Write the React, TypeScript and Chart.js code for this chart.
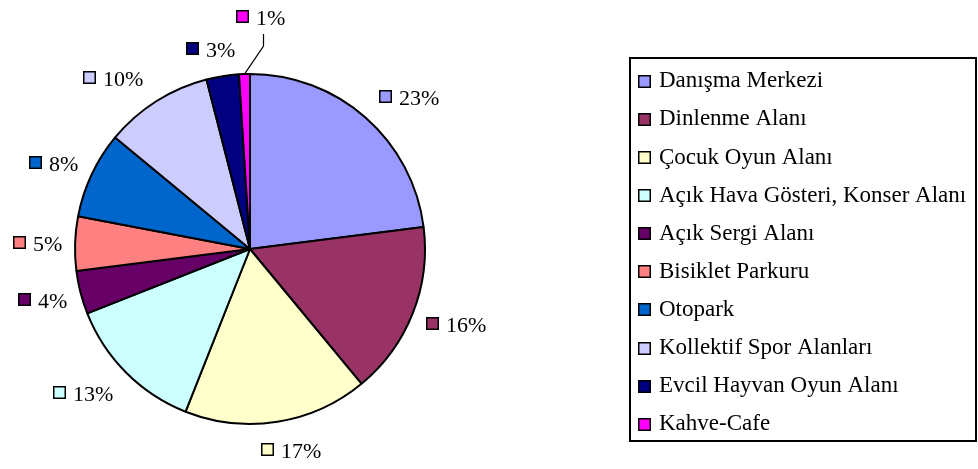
import { useEffect, useRef } from 'react';
import { Chart, registerables } from 'chart.js';

Chart.register(...registerables);

const categories = [
  'Danışma Merkezi',
  'Dinlenme Alanı',
  'Çocuk Oyun Alanı',
  'Açık Hava Gösteri, Konser Alanı',
  'Açık Sergi Alanı',
  'Bisiklet Parkuru',
  'Otopark',
  'Kollektif Spor Alanları',
  'Evcil Hayvan Oyun Alanı',
  'Kahve-Cafe',
];
const shares = [23, 16, 17, 13, 4, 5, 8, 10, 3, 1];
const sliceColors = [
  '#9999FF',
  '#993366',
  '#FFFFCC',
  '#CCFFFF',
  '#660066',
  '#FF8080',
  '#0066CC',
  '#CCCCFF',
  '#000080',
  '#FF00FF',
];

const SERIF = '"Liberation Serif", "Times New Roman", serif';

const excelPlugin = {
  id: 'excelLabelsLegend',
  afterDatasetsDraw(chart: any) {
    const ctx = chart.ctx as CanvasRenderingContext2D;
    const meta = chart.getDatasetMeta(0);
    const ds = chart.data.datasets[0];
    const data = ds.data as number[];
    const colors = ds.backgroundColor as string[];
    const total = data.reduce((a, b) => a + b, 0);
    ctx.save();
    ctx.font = '22px ' + SERIF;
    ctx.textAlign = 'left';
    ctx.textBaseline = 'alphabetic';
    meta.data.forEach((arc: any, i: number) => {
      const { x, y, startAngle, endAngle, outerRadius } = arc.getProps(
        ['x', 'y', 'startAngle', 'endAngle', 'outerRadius'],
        true
      );
      const mid = (startAngle + endAngle) / 2;
      const dx = Math.cos(mid);
      const dy = Math.sin(mid);
      const ex = x + outerRadius * dx;
      const ey = y + outerRadius * dy;
      const text = Math.round((data[i] / total) * 100) + '%';
      const tw = ctx.measureText(text).width;
      const w = 13 + 7 + tw;
      const h = 16;
      let cx: number;
      let cy: number;
      if (data[i] / total < 0.02) {
        cx = ex + 16;
        cy = ey - 58;
        ctx.beginPath();
        ctx.moveTo(ex, ey);
        ctx.lineTo(ex + 19, ey - 28);
        ctx.lineTo(ex + 19, ey - 40);
        ctx.strokeStyle = '#000';
        ctx.lineWidth = 1.2;
        ctx.stroke();
      } else {
        const k = Math.max(-1, Math.min(1, 2 * dx));
        cx = ex + k * (w / 2 + 13);
        cy = ey + dy * (h / 2 + 20);
      }
      const left = Math.round(cx - w / 2);
      const mTop = Math.round(cy - 6.5);
      ctx.fillStyle = colors[i];
      ctx.fillRect(left, mTop, 13, 13);
      ctx.strokeStyle = '#000';
      ctx.lineWidth = 1.5;
      ctx.strokeRect(left + 0.75, mTop + 0.75, 11.5, 11.5);
      ctx.fillStyle = '#000';
      ctx.fillText(text, left + 20, mTop + 6.5 + 8);
    });

    // legend box
    const labels = chart.data.labels as string[];
    ctx.strokeStyle = '#000';
    ctx.lineWidth = 2;
    ctx.strokeRect(630, 58, 346, 383);
    ctx.font = '23px ' + SERIF;
    labels.forEach((lab, i) => {
      const my = 81.3 + i * 38.1;
      const mTop = Math.round(my - 6.5);
      ctx.fillStyle = colors[i];
      ctx.fillRect(638, mTop, 13, 13);
      ctx.strokeStyle = '#000';
      ctx.lineWidth = 1.5;
      ctx.strokeRect(638.75, mTop + 0.75, 11.5, 11.5);
      ctx.fillStyle = '#000';
      ctx.fillText(lab, 659, my + 6);
    });
    ctx.restore();
  },
};

export default function App() {
  const canvasRef = useRef<HTMLCanvasElement | null>(null);

  useEffect(() => {
    if (!canvasRef.current) return;
    const chart = new Chart(canvasRef.current, {
      type: 'pie',
      data: {
        labels: categories,
        datasets: [
          {
            data: shares,
            backgroundColor: sliceColors,
            borderColor: '#000',
            borderWidth: 2,
          },
        ],
      },
      options: {
        responsive: false,
        animation: false,
        layout: { padding: { left: 74, right: 552, top: 73, bottom: 44 } },
        plugins: {
          legend: { display: false },
          tooltip: { enabled: false },
        },
      },
      plugins: [excelPlugin],
    });
    return () => chart.destroy();
  }, []);

  return (
    <div
      style={{
        position: 'absolute',
        left: 0,
        top: 0,
        width: 978,
        height: 469,
        background: '#fff',
      }}
    >
      <canvas ref={canvasRef} width={978} height={469} style={{ display: 'block' }} />
    </div>
  );
}
